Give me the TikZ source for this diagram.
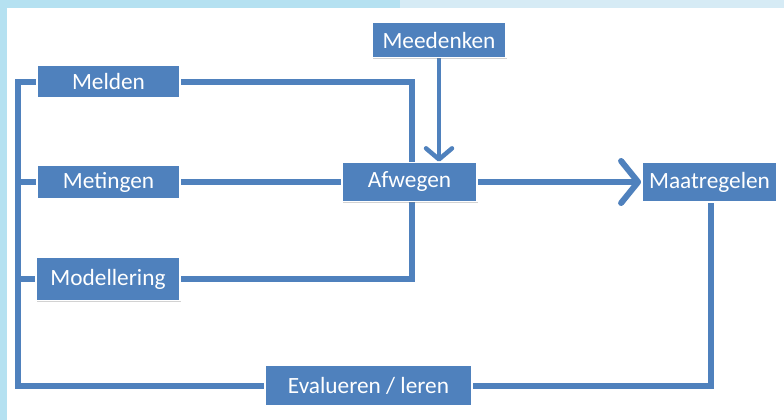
\documentclass[tikz,border=0pt]{standalone}
\usepackage{fontspec}
\setmainfont{Carlito}
\usetikzlibrary{arrows.meta,shadows}
\pgfdeclarelayer{bg}
\pgfdeclarelayer{lines}
\pgfsetlayers{bg,lines,main}
\definecolor{boxblue}{HTML}{4F81BD}
\definecolor{stripA}{HTML}{B5E1F1}
\definecolor{stripB}{HTML}{D6EBF5}
\tikzset{
  box/.style={fill=boxblue, draw=white, line width=1.8pt, text=white,
    font=\fontsize{23.3}{27}\selectfont, inner sep=0pt,
    drop shadow={opacity=0.35, shadow xshift=0.8pt, shadow yshift=-1.2pt}},
  conn/.style={draw=boxblue, line width=6pt},
  arr/.style={draw=boxblue, line width=4.5pt, -{Straight Barb[round,length=11pt,width=26pt]}},
  bigarr/.style={draw=boxblue, line width=6pt, -{Straight Barb[round,length=17pt,width=42pt]}}
}
\begin{document}
\begin{tikzpicture}[x=1pt,y=-1pt]
\useasboundingbox (0,0) rectangle (784,420);
\begin{pgfonlayer}{bg}
\fill[white] (0,0) rectangle (784,420);
\fill[stripA] (0,0) rectangle (7,420);
\fill[stripA] (0,0) rectangle (400,8);
\fill[stripB] (400,0) rectangle (784,8);
\end{pgfonlayer}

\node[box, minimum width=134pt, minimum height=35pt] (meed) at (439,40) {Meedenken};
\node[box, minimum width=143pt, minimum height=33pt] (meld) at (108.5,81.5) {Melden};
\node[box, minimum width=143pt, minimum height=34pt] (meti) at (108.5,182) {Metingen};
\node[box, minimum width=144pt, minimum height=43pt] (mode) at (108,279) {Modellering};
\node[box, minimum width=135pt, minimum height=39pt] (afw) at (409.5,182) {Afwegen};
\node[box, minimum width=135pt, minimum height=40pt] (maat) at (709.5,182) {Maatregelen};
\node[box, minimum width=207pt, minimum height=41pt] (eval) at (368.5,385.5) {Evalueren / leren};

\coordinate (tl) at (18,81.5);
\coordinate (bl) at (18,385.5);

\begin{pgfonlayer}{lines}
\draw[conn, line join=miter] (meld.west) -- (tl) -- (bl) -- (eval.west);
\draw[conn] (meti.west) -- (meti.west -| tl);
\draw[conn] (mode.west) -- (mode.west -| tl);
\draw[conn, line join=miter] (meld.east) -| ([xshift=2pt]afw.north);
\draw[conn] (meti.east) -- (afw.west);
\draw[conn, line join=miter] (mode.east) -| ([xshift=2pt]afw.south);
\draw[conn, line join=miter] (eval.east) -| ([xshift=1.5pt]maat.south);
\draw[arr] (meed.south) -- (meed.south |- afw.north);
\draw[bigarr] (afw.east) -- (maat.west);
\end{pgfonlayer}
\end{tikzpicture}
\end{document}
